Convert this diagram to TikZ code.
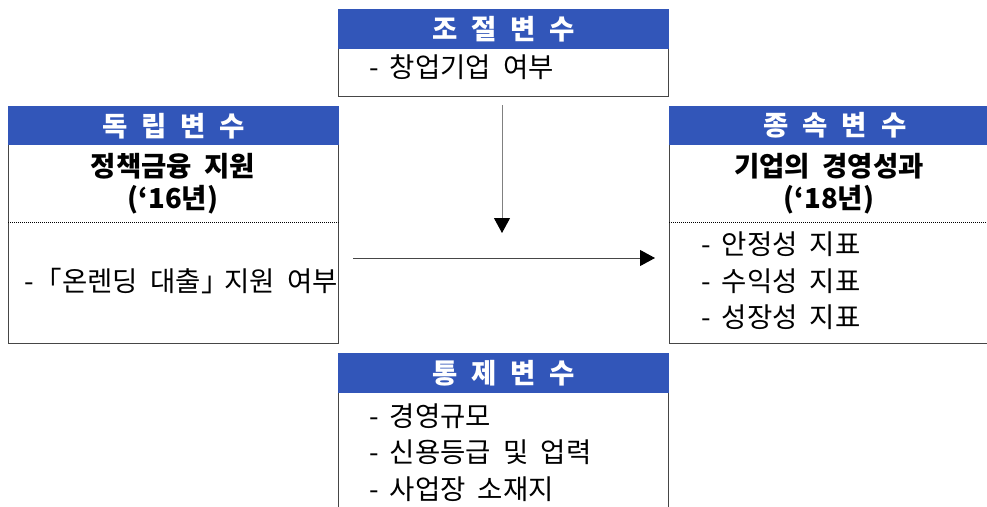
\documentclass[tikz,border=0pt]{standalone}
\usepackage{fontspec}
\setmainfont[WordSpace=2]{Noto Sans CJK KR}
\usetikzlibrary{arrows.meta}
\definecolor{hdrblue}{RGB}{50,86,185}
\definecolor{boxline}{RGB}{70,70,70}
\newcommand\gp{\hspace{14pt}}
\tikzset{
  hdr/.style={fill=hdrblue, draw=none, anchor=north west, inner sep=0pt, text=white,
     font=\fontsize{27.5pt}{30pt}\selectfont\bfseries},
  bodybox/.style={draw=boxline, line width=1.2pt, anchor=north west, inner sep=0pt, fill=white},
  btitle/.style={inner sep=0pt, font=\fontsize{27.5pt}{30pt}\selectfont\bfseries},
  item/.style={inner sep=0pt, anchor=west, font=\fontsize{27.5pt}{30pt}\selectfont},
  sep/.style={line width=0.8pt, dash pattern=on 1pt off 1pt, black},
  arr/.style={line width=1pt, -{Triangle[length=15pt,width=16pt,color=black]}}
}
\begin{document}
\begin{tikzpicture}[x=1pt,y=-1pt]
\useasboundingbox (0,0) rectangle (987,506);
\clip (0,0) rectangle (987,506);
% top: moderator
\node[bodybox, minimum width=330pt, minimum height=48pt] (modb) at (338,48) {};
\node[hdr, minimum width=331pt, minimum height=40pt] (modh) at (338,9) {조\gp 절\gp 변\gp 수};
\node[item] (m1) at (369,67) {-\hspace{11pt}창업기업 여부};
% left: independent
\node[bodybox, minimum width=330pt, minimum height=199pt] (indb) at (8,144) {};
\node[hdr, minimum width=331pt, minimum height=39pt] (indh) at (8,106) {독\gp 립\gp 변\gp 수};
\node[btitle] (it1) at (173,166) {정책금융 지원};
\node[btitle] (it2) at (173,200) {(‘16년)};
\draw[sep] (indb.west |- 0,222) -- (indb.east |- 0,222);
\node[item] (i1) at (24,281) {-\hspace{1pt}「온렌딩 대출」\hspace{-4pt}지원 여부};
% right: dependent
\node[bodybox, minimum width=330pt, minimum height=199pt] (depb) at (669,144) {};
\node[hdr, minimum width=331pt, minimum height=39pt] (deph) at (669,106) {종\gp 속\gp 변\gp 수};
\node[btitle] (dt1) at (829,166) {기업의 경영성과};
\node[btitle] (dt2) at (829,200) {(‘18년)};
\draw[sep] (depb.west |- 0,222) -- (depb.east |- 0,222);
\node[item] (d1) at (701,244) {-\hspace{11pt}안정성 지표};
\node[item] (d2) at (701,281) {-\hspace{11pt}수익성 지표};
\node[item] (d3) at (701,317) {-\hspace{11pt}성장성 지표};
% bottom: control
\node[bodybox, minimum width=330pt, minimum height=140pt] (conb) at (338,392) {};
\node[hdr, minimum width=331pt, minimum height=40pt] (conh) at (338,353) {통\gp 제\gp 변\gp 수};
\node[item] (c1) at (369,416) {-\hspace{11pt}경영규모};
\node[item] (c2) at (369,452) {-\hspace{11pt}신용등급 및 업력};
\node[item] (c3) at (369,489) {-\hspace{11pt}사업장 소재지};
% arrows
\coordinate (vtip) at (502,233);
\coordinate (hstart) at (353,258);
\coordinate (htip) at (655,258);
\draw[arr, draw=gray] (modb.south -| vtip) ++(0,8) -- (vtip);
\draw[arr, draw=boxline] (hstart) -- (htip);
\end{tikzpicture}
\end{document}
